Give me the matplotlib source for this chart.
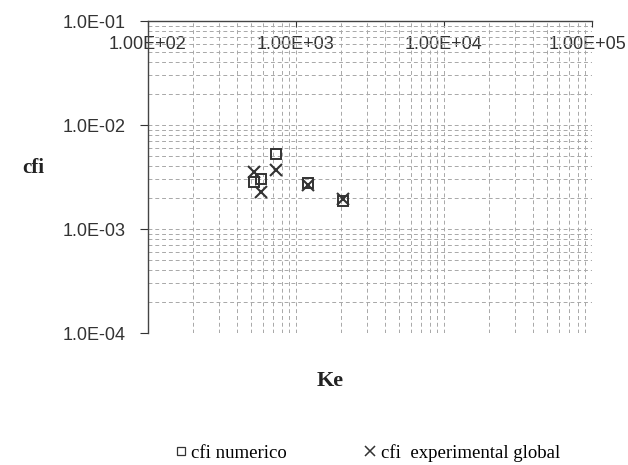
import matplotlib
matplotlib.use("Agg")
import matplotlib.pyplot as plt
import matplotlib.transforms as mtransforms
from matplotlib.ticker import LogLocator, FixedLocator, FixedFormatter
from matplotlib.lines import Line2D

# ==========================
# DATA
# ==========================

ke_num = [518, 578, 731, 1208, 2090]
cfi_num = [2.8e-3, 3.05e-3, 5.3e-3, 2.74e-3, 1.84e-3]

ke_exp = [518, 578, 731, 1208, 2090]
cfi_exp = [3.5e-3, 2.25e-3, 3.7e-3, 2.63e-3, 1.96e-3]

x_ticks = [1e2, 1e3, 1e4, 1e5]
x_labels = ["1.00E+02", "1.00E+03", "1.00E+04", "1.00E+05"]
y_ticks = [1e-4, 1e-3, 1e-2, 1e-1]
y_labels = ["1.0E-04", "1.0E-03", "1.0E-02", "1.0E-01"]

ink = "#333333"
sans = "Liberation Sans"
serif = "Liberation Serif"

# ==========================
# FIGURE
# ==========================

fig = plt.figure(figsize=(6.28, 4.65), dpi=100)
ax = fig.add_axes([148 / 628, 1 - 333 / 465, (592 - 148) / 628, (333 - 21) / 465])

ax.set_xscale("log")
ax.set_yscale("log")
ax.set_xlim(1e2, 1e5)
ax.set_ylim(1e-4, 1e-1)

ax.plot(ke_num, cfi_num, linestyle="none", marker="s", markersize=7,
        markerfacecolor="none", markeredgecolor=ink, markeredgewidth=1.4)
ax.plot(ke_exp, cfi_exp, linestyle="none", marker="x", markersize=8,
        color=ink, markeredgewidth=1.5)

# grid
ax.xaxis.set_minor_locator(LogLocator(base=10, subs=range(2, 10)))
ax.yaxis.set_minor_locator(LogLocator(base=10, subs=range(2, 10)))
ax.grid(which="both", linestyle=(0, (4, 3)), color="#a8a8a8", linewidth=0.7)
ax.set_axisbelow(True)

# spines
ax.spines["right"].set_visible(False)
ax.spines["bottom"].set_visible(False)
for s in ["left", "top"]:
    ax.spines[s].set_color("#444444")
    ax.spines[s].set_linewidth(1.0)

# x axis on top, labels inside the plot
ax.xaxis.set_major_locator(FixedLocator(x_ticks))
ax.xaxis.set_major_formatter(FixedFormatter(x_labels))
ax.tick_params(axis="x", which="major", top=True, bottom=False,
               labeltop=True, labelbottom=False, direction="in",
               length=4, pad=-10.5, labelsize=13, colors=ink)
ax.tick_params(axis="x", which="minor", top=False, bottom=False)
xlbls = ax.get_xticklabels()
for lbl in xlbls:
    lbl.set_fontfamily(sans)
    lbl.set_verticalalignment("top")
# last label nudged left so it stays on the page
shift = mtransforms.ScaledTranslation(-0.05, 0, fig.dpi_scale_trans)
xlbls[-1].set_transform(xlbls[-1].get_transform() + shift)

ax.yaxis.set_major_locator(FixedLocator(y_ticks))
ax.yaxis.set_major_formatter(FixedFormatter(y_labels))
ax.tick_params(axis="y", which="major", direction="out", length=6,
               pad=10, labelsize=13, colors=ink)
ax.tick_params(axis="y", which="minor", left=False)
for lbl in ax.get_yticklabels():
    lbl.set_fontfamily(sans)

# axis titles
fig.text(22 / 628, 1 - 168 / 465, "cfi", fontsize=15, fontweight="bold",
         family=serif, color="#222222", ha="left", va="center")
fig.text(330 / 628, 1 - 381 / 465, "Ke", fontsize=16, fontweight="bold",
         family=serif, color="#222222", ha="center", va="center")

# legend
handles = [
    Line2D([], [], linestyle="none", marker="s", markersize=6,
           markerfacecolor="none", markeredgecolor=ink, markeredgewidth=0.9),
    Line2D([], [], linestyle="none", marker="x", markersize=7,
           color=ink, markeredgewidth=1.1),
]
fig.legend(handles, ["cfi numerico", "cfi  experimental global"],
           loc="center", bbox_to_anchor=(368 / 628, 1 - 453 / 465),
           ncol=2, frameon=False, handlelength=0.5, handletextpad=0.3,
           columnspacing=4.2, borderpad=0, borderaxespad=0,
           prop={"family": serif, "size": 13.5})

fig.savefig("out.png", dpi=100)
